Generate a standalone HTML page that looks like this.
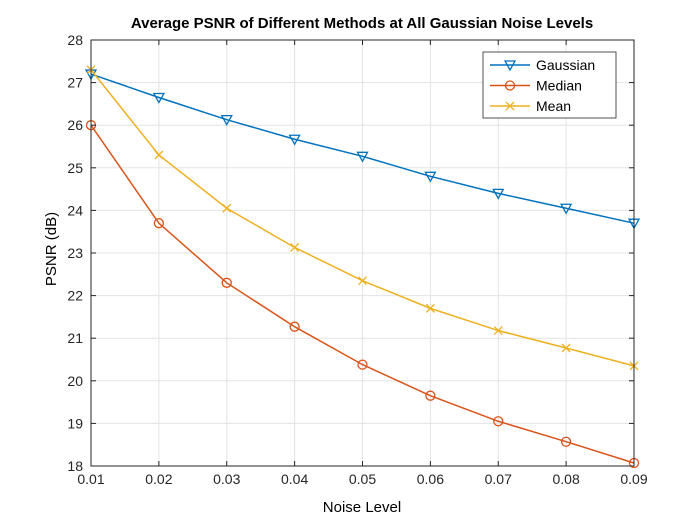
<!DOCTYPE html>
<html><head><meta charset="utf-8"><style>body{margin:0;background:#fff}svg{display:block;font-family:"Liberation Sans",Arial,sans-serif}</style></head>
<body>
<svg width="700" height="525" viewBox="0 0 700 525" xmlns="http://www.w3.org/2000/svg">
<rect width="700" height="525" fill="#fff"/>
<g id="grid"></g>
<g id="series"></g>
<g id="axes"></g>
<text x="362" y="28" text-anchor="middle" font-size="15" font-weight="bold">Average PSNR of Different Methods at All Gaussian Noise Levels</text>
<text x="362" y="512" text-anchor="middle" font-size="15">Noise Level</text>
<text transform="translate(56,249) rotate(-90)" text-anchor="middle" font-size="15">PSNR (dB)</text>
<g>
<rect x="483" y="52" width="133" height="66" fill="#fff" stroke="#262626" stroke-width="0.8"/>
<g id="legend"></g>
</g>
</svg>
<script>
const xValues=[0.01,0.02,0.03,0.04,0.05,0.06,0.07,0.08,0.09];
const gaussian=[27.2,26.65,26.13,25.67,25.27,24.8,24.4,24.05,23.7];
const median=[26.0,23.7,22.3,21.27,20.38,19.65,19.05,18.57,18.07];
const mean=[27.3,25.3,24.05,23.13,22.35,21.7,21.18,20.77,20.35];
const xTicks=[0.01,0.02,0.03,0.04,0.05,0.06,0.07,0.08,0.09];
const yTicks=[18,19,20,21,22,23,24,25,26,27,28];
const L=91,R=634,T=40,B=466;
const sx=v=>L+(v-0.01)/0.08*(R-L);
const sy=v=>B-(v-18)/10*(B-T);
const NS='http://www.w3.org/2000/svg';
function mk(t,a,p){const e=document.createElementNS(NS,t);for(const k in a)e.setAttribute(k,a[k]);p.appendChild(e);return e;}
const grid=document.getElementById('grid'),axes=document.getElementById('axes'),ser=document.getElementById('series'),leg=document.getElementById('legend');
xTicks.forEach(v=>{const x=sx(v);
const g=mk('line',{x1:x,x2:x,y1:T,y2:B,stroke:'#e3e3e3','stroke-width':1},grid);

mk('line',{x1:x,x2:x,y1:B,y2:B-5,stroke:'#262626'},axes);mk('line',{x1:x,x2:x,y1:T,y2:T+5,stroke:'#262626'},axes);
const t=mk('text',{x:x,y:B+18,'text-anchor':'middle','font-size':14,fill:'#262626'},axes);t.textContent=v.toFixed(2);
});
yTicks.forEach(v=>{const y=sy(v);
const g=mk('line',{x1:L,x2:R,y1:y,y2:y,stroke:'#e3e3e3','stroke-width':1},grid);

mk('line',{x1:L,x2:L+5,y1:y,y2:y,stroke:'#262626'},axes);mk('line',{x1:R,x2:R-5,y1:y,y2:y,stroke:'#262626'},axes);
const t=mk('text',{x:L-8,y:y+5,'text-anchor':'end','font-size':14,fill:'#262626'},axes);t.textContent=v;
});
const box=mk('rect',{x:L,y:T,width:R-L,height:B-T,fill:'none',stroke:'#262626','stroke-width':1},axes);

function marker(type,x,y,c,p){
 if(type==='tri')return mk('path',{d:`M${x-5},${y-4}L${x+5},${y-4}L${x},${y+5}Z`,fill:'none',stroke:c,'stroke-width':1.3},p);
 if(type==='circ')return mk('circle',{cx:x,cy:y,r:4.5,fill:'none',stroke:c,'stroke-width':1.3},p);
 return mk('path',{d:`M${x-4},${y-4}L${x+4},${y+4}M${x-4},${y+4}L${x+4},${y-4}`,stroke:c,'stroke-width':1.3},p);}
const list=[['gaussian','Gaussian',gaussian,'#0072bd','tri'],['median','Median',median,'#d95319','circ'],['mean','Mean',mean,'#edb120','x']];
list.forEach(([id,name,d,c,m],i)=>{
 const g=mk('g',{},ser);
 const pl=mk('polyline',{points:d.map((v,j)=>sx(xValues[j])+','+sy(v)).join(' '),fill:'none',stroke:c,'stroke-width':1.5},g);
 
 d.forEach((v,j)=>{const e=marker(m,sx(xValues[j]),sy(v),c,g);});
 const ly=65+i*20.5;
 const lg=mk('g',{},leg);
 mk('line',{x1:490,x2:530,y1:ly,y2:ly,stroke:c,'stroke-width':1.5},lg);marker(m,510,ly,c,lg);
 const t=mk('text',{x:536,y:ly+5,'font-size':14,fill:'#000'},lg);t.textContent=name;
});
</script>
</body></html>
